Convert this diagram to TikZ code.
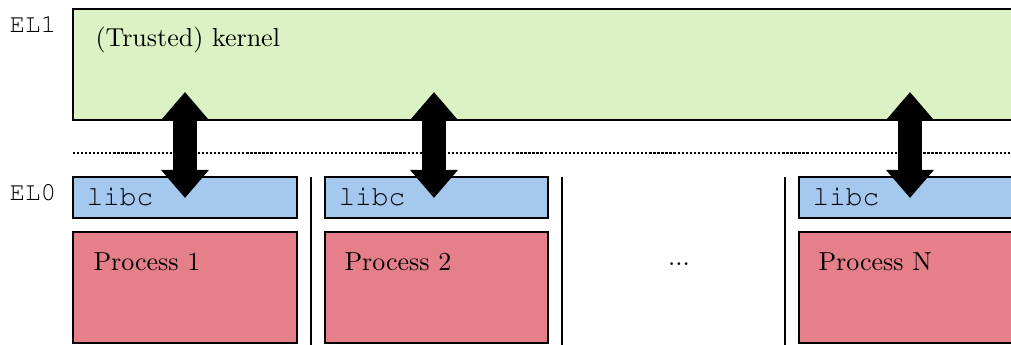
\documentclass[tikz,border=0pt]{standalone}
\usepackage[T1,TU]{fontenc}
\usetikzlibrary{arrows.meta}
\newcommand{\couriertext}{\usefont{T1}{pcr}{m}{n}}
\definecolor{kgreen}{RGB}{220,242,196}
\definecolor{lblue}{RGB}{164,200,238}
\definecolor{pred}{RGB}{229,127,138}
\begin{document}
\begin{tikzpicture}[x=0.3846pt,y=-0.3846pt,
  box/.style={draw=black,line width=0.75pt},
  lbl/.style={anchor=west,inner sep=0pt},
  eltext/.style={lbl,font=\fontsize{10}{12}\couriertext},
  libctext/.style={lbl,font=\fontsize{10.7}{13}\couriertext},
  sysarrow/.style={line width=24*0.3846pt,{Triangle[width=46*0.3846pt,length=28*0.3846pt]}-{Triangle[width=46*0.3846pt,length=28*0.3846pt]}}]
\useasboundingbox (0,0) rectangle (1011,345);
% kernel
\filldraw[box,fill=kgreen] (73,9) rectangle (1030,120);
\node[lbl] (kern) at (95,40) {(Trusted) kernel};
% level labels
\node[eltext] (el1) at (9,24) {EL1};
\node[eltext] (el0) at (9,192) {EL0};
% dotted separator
\coordinate (dl) at (73,153);
\coordinate (dr) at (1011,153);
\draw[line width=1.05pt,dash pattern=on 0.85pt off 0.7pt] (dl) -- (dr);
% libc boxes
\filldraw[box,fill=lblue] (73,177) rectangle (297,218);
\filldraw[box,fill=lblue] (325,177) rectangle (548,218);
\filldraw[box,fill=lblue] (799,177) rectangle (1030,218);
\node[libctext] (l1) at (86,197) {libc};
\node[libctext] (l2) at (338,197) {libc};
\node[libctext] (l3) at (812,197) {libc};
% process boxes
\filldraw[box,fill=pred] (73,232) rectangle (297,343);
\filldraw[box,fill=pred] (325,232) rectangle (548,343);
\filldraw[box,fill=pred] (799,232) rectangle (1030,343);
\node[lbl] (p1) at (93,262) {Process 1};
\node[lbl] (p2) at (344,262) {Process 2};
\node[lbl] (pn) at (818,262) {Process N};
\node (dots) at (679,264) {...};
% separators
\coordinate (s1t) at (311,177); \coordinate (s1b) at (311,346);
\coordinate (s2t) at (562,177); \coordinate (s2b) at (562,346);
\coordinate (s3t) at (785,177); \coordinate (s3b) at (785,346);
\draw[line width=0.75pt] (s1t) -- (s1b);
\draw[line width=0.75pt] (s2t) -- (s2b);
\draw[line width=0.75pt] (s3t) -- (s3b);
% syscall arrows
\coordinate (a1t) at (185,92); \coordinate (a1b) at (185,198);
\coordinate (a2t) at (434,92); \coordinate (a2b) at (434,198);
\coordinate (a3t) at (910,92); \coordinate (a3b) at (910,198);
\draw[sysarrow] (a1t) -- (a1b);
\draw[sysarrow] (a2t) -- (a2b);
\draw[sysarrow] (a3t) -- (a3b);
\end{tikzpicture}
\end{document}
